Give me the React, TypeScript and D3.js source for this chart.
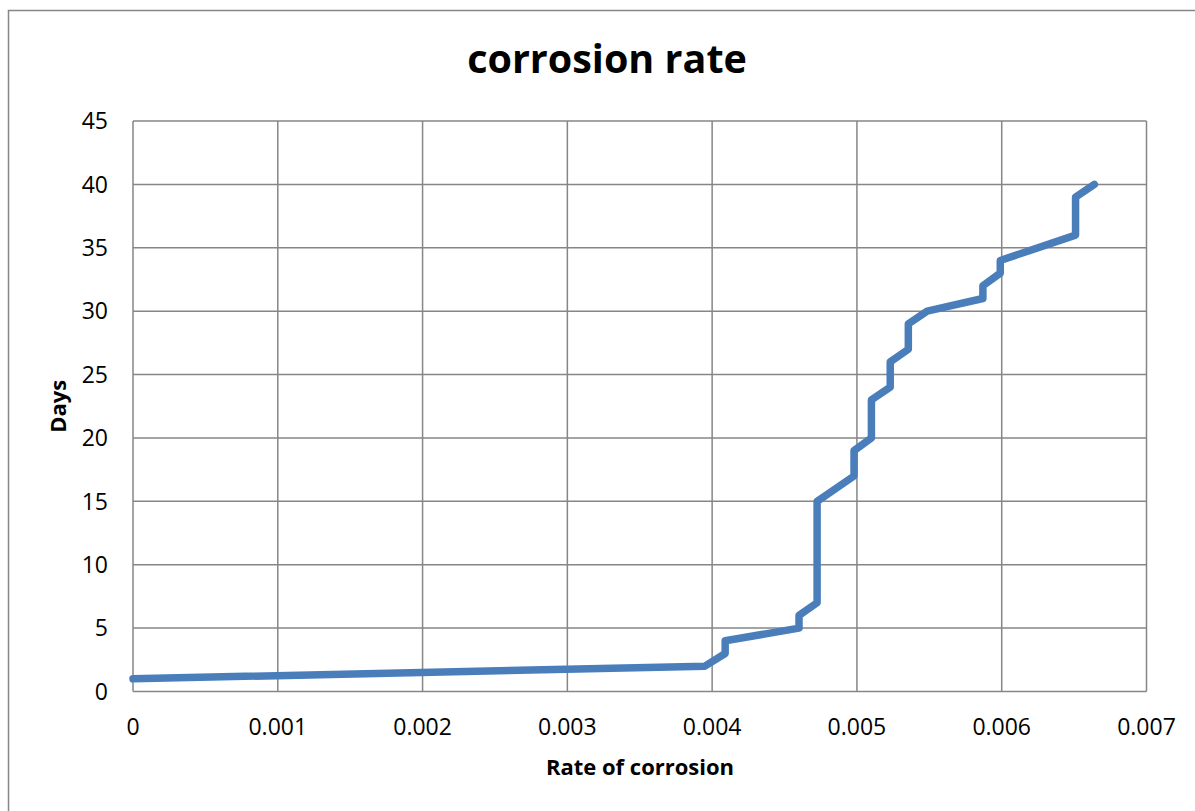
import React from "react";
import * as d3 from "d3";

// Corrosion rate against elapsed days
const rates = [
  0, 0.00395, 0.00409, 0.00409, 0.0046, 0.0046, 0.004725, 0.004725, 0.00498,
  0.00498, 0.0051, 0.0051, 0.00523, 0.00523, 0.005355, 0.005355, 0.005485,
  0.00587, 0.00587, 0.00599, 0.00599, 0.00651, 0.00651, 0.00664,
];
const days = [
  1, 2, 3, 4, 5, 6, 7, 15, 17, 19, 20, 23, 24, 26, 27, 29, 30, 31, 32, 33, 34,
  36, 39, 40,
];
const xTicks = [0, 0.001, 0.002, 0.003, 0.004, 0.005, 0.006, 0.007];
const xTickLabels = ["0", "0.001", "0.002", "0.003", "0.004", "0.005", "0.006", "0.007"];
const yTicks = [0, 5, 10, 15, 20, 25, 30, 35, 40, 45];

const W = 1195;
const H = 811;
const plot = { left: 133, right: 1146.5, top: 121, bottom: 691.5 };
const FONT = "'Open Sans', 'Noto Sans', sans-serif";
const GRID = "#868686";

export default function App() {
  const x = d3.scaleLinear().domain([0, 0.007]).range([plot.left, plot.right]);
  const y = d3.scaleLinear().domain([0, 45]).range([plot.bottom, plot.top]);
  const pts: [number, number][] = rates.map((r, i) => [r, days[i]]);
  const line = d3
    .line<[number, number]>()
    .x((d) => x(d[0]))
    .y((d) => y(d[1]));

  return (
    <svg
      width={W}
      height={H}
      style={{ position: "absolute", left: 0, top: 0, background: "#fff" }}
    >
      <rect x={8.5} y={10.5} width={1300} height={1000} fill="#fff" stroke={GRID} strokeWidth={1.5} />

      {/* grid */}
      {yTicks.map((t) => (
        <line key={"gy" + t} x1={plot.left} x2={plot.right} y1={y(t)} y2={y(t)} stroke={GRID} strokeWidth={1.5} />
      ))}
      {xTicks.map((t) => (
        <line key={"gx" + t} x1={x(t)} x2={x(t)} y1={plot.top} y2={plot.bottom} stroke={GRID} strokeWidth={1.5} />
      ))}

      {/* tick labels */}
      {yTicks.map((t) => (
        <text key={"ly" + t} x={108} y={y(t)} dy="0.36em" textAnchor="end" fontFamily={FONT} fontSize={23} fill="#000">
          {t}
        </text>
      ))}
      {xTicks.map((t, i) => (
        <text key={"lx" + t} x={x(t)} y={735} textAnchor="middle" fontFamily={FONT} fontSize={23} fill="#000">
          {xTickLabels[i]}
        </text>
      ))}

      {/* series */}
      <path d={line(pts) || ""} fill="none" stroke="#4a7ebb" strokeWidth={7.5} strokeLinejoin="round" strokeLinecap="round" />

      {/* titles */}
      <text x={607} y={73} textAnchor="middle" fontFamily={FONT} fontWeight="bold" fontSize={39.5} fill="#000">
        corrosion rate
      </text>
      <text x={640} y={775} textAnchor="middle" fontFamily={FONT} fontWeight="bold" fontSize={22} fill="#000">
        Rate of corrosion
      </text>
      <text
        transform={`translate(66, ${(plot.top + plot.bottom) / 2}) rotate(-90)`}
        textAnchor="middle"
        fontFamily={FONT}
        fontWeight="bold"
        fontSize={22}
        fill="#000"
      >
        Days
      </text>
    </svg>
  );
}
